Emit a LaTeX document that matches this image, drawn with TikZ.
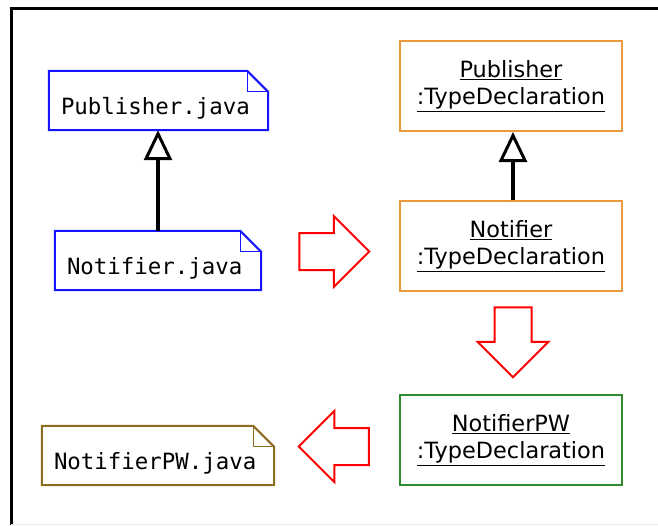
\documentclass[tikz,border=0pt]{standalone}
\usepackage{fontspec}
\setmainfont{DejaVu Sans}
\newfontfamily\javafont{DejaVu Sans Mono}
\usetikzlibrary{arrows.meta,shapes.arrows}
\definecolor{noteblue}{HTML}{1414FF}
\definecolor{notebrown}{HTML}{8C6D1F}
\definecolor{declorange}{HTML}{E89A3C}
\definecolor{declgreen}{HTML}{2E8B2E}

\tikzset{
  javafile/.style={minimum height=59pt, inner xsep=12pt, inner ysep=0pt,
    text height=27pt, text depth=0pt, align=left,
    font=\javafont\fontsize{22.4}{26}\selectfont},
  typedecl/.style={draw, line width=2pt, minimum width=222pt, minimum height=90pt,
    align=center, font=\fontsize{22.4}{27}\selectfont},
  inherit/.style={line width=3.5pt, -{Triangle[open, length=30pt, width=28pt, line width=3pt]}},
  transform/.style={single arrow, draw=red, line width=2pt, inner xsep=0pt, inner ysep=17.5pt,
    minimum height=70pt, single arrow head extend=17pt, single arrow head indent=0pt},
}

\begin{document}
\begin{tikzpicture}[x=1pt,y=-1pt]
    \useasboundingbox (0,0) rectangle (658,525);
    \draw[line width=3pt] (11,525) -- (11,8) -- (658,8); % frame
    \draw[gray!15] (11,524) -- (658,524);

    % source files
    \node[javafile, text width=195pt] (pubjava) at (158.5,100.5) {Publisher.java};
    \node[javafile, text width=182pt] (notjava) at (158,260.5) {Notifier.java};
    \node[javafile, text width=208pt] (pwjava) at (158,455.5) {NotifierPW.java};

    \foreach \n/\c in {pubjava/noteblue, notjava/noteblue, pwjava/notebrown} {
        \draw[\c, line width=2pt] (\n.north west) -- ([xshift=-21pt]\n.north east)
            -- ([yshift=-21pt]\n.north east) -- (\n.south east) -- (\n.south west) -- cycle;
        \draw[\c, line width=1pt] ([xshift=-21pt]\n.north east) |- ([yshift=-21pt]\n.north east); % fold
    }

    % type declarations
    \node[typedecl, draw=declorange] (pubdecl) at (511,86) {\underline{Publisher}\\\underline{:TypeDeclaration}};
    \node[typedecl, draw=declorange] (notdecl) at (511,246) {\underline{Notifier}\\\underline{:TypeDeclaration}};
    \node[typedecl, draw=declgreen] (pwdecl) at (511,440) {\underline{NotifierPW}\\\underline{:TypeDeclaration}};

    \draw[inherit] (notjava.north) -- (notjava.north |- pubjava.south);
    \draw[inherit] ([xshift=2pt]notdecl.north) -- ([xshift=2pt]pubdecl.south);

    % transformations
    \node[transform] (parse) at (325,251.5) {};
    \node[transform, rotate=-90] (weave) at (513,333) {};
    \node[transform, rotate=180] (emit) at (343,446.5) {};
\end{tikzpicture}
\end{document}
